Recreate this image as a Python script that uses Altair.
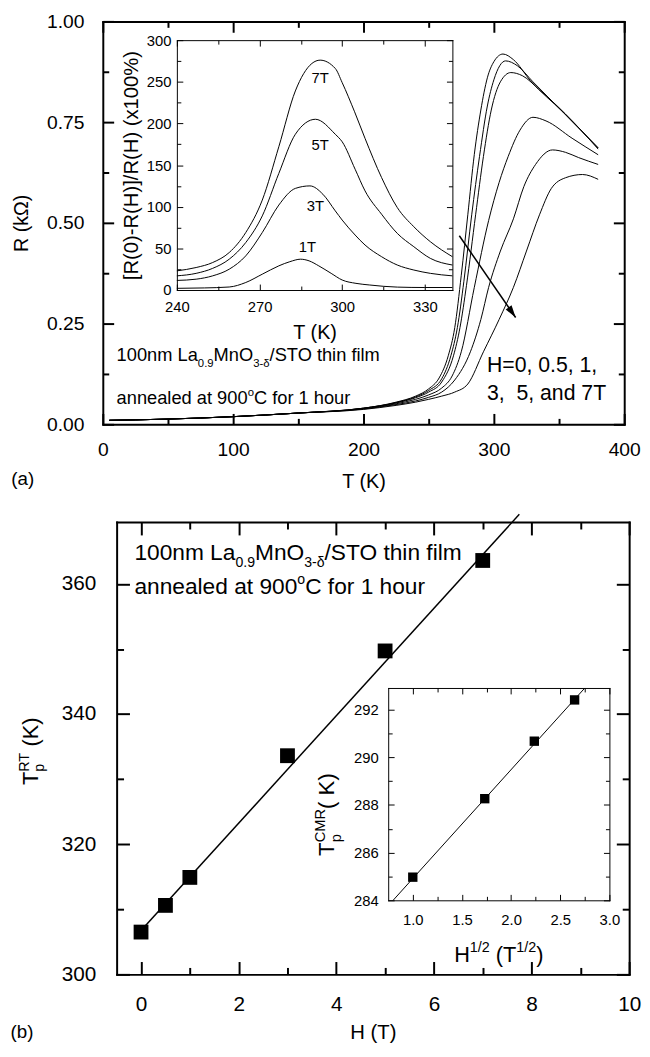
import altair as alt
import pandas as pd

FONT = "Liberation Sans"
W, H = 642, 1041

# ---------------- panel (a): R(T) for several fields ----------------
A_FIELDS = ["0", "0.5", "1", "3", "5", "7"]
A_T = {
    "0":   [5, 25, 50, 100, 150, 200, 225, 240, 250, 258, 265, 270, 275, 280, 285, 290, 295, 300, 307, 315, 328, 353, 380],
    "0.5": [5, 25, 50, 100, 150, 200, 225, 240, 250, 260, 267, 272, 277, 283, 289, 295, 300, 309, 318, 330, 353, 380],
    "1":   [5, 25, 50, 100, 150, 200, 225, 240, 250, 260, 269, 274, 279, 286, 292, 298, 305, 313, 322, 335, 355, 380],
    "3":   [5, 25, 50, 100, 150, 200, 225, 240, 250, 260, 268, 275, 285, 296, 304, 311, 320, 330, 340, 360, 380],
    "5":   [5, 25, 50, 100, 150, 200, 225, 240, 250, 260, 270, 282, 290, 296, 305, 315, 323, 332, 345, 355, 365, 380],
    "7":   [5, 25, 50, 100, 150, 200, 225, 240, 250, 260, 270, 280, 292, 304, 315, 325, 335, 344, 355, 368, 380],
}
A_R = {
    "0":   [0.010, 0.011, 0.013, 0.019, 0.028, 0.040, 0.055, 0.070, 0.088, 0.115, 0.170, 0.240, 0.370, 0.520, 0.670, 0.780, 0.860, 0.900, 0.919, 0.905, 0.853, 0.775, 0.686],
    "0.5": [0.010, 0.011, 0.013, 0.019, 0.028, 0.040, 0.054, 0.068, 0.084, 0.113, 0.170, 0.240, 0.355, 0.520, 0.665, 0.790, 0.855, 0.902, 0.890, 0.850, 0.775, 0.686],
    "1":   [0.010, 0.011, 0.013, 0.019, 0.028, 0.040, 0.053, 0.066, 0.080, 0.105, 0.170, 0.240, 0.345, 0.520, 0.665, 0.780, 0.850, 0.873, 0.865, 0.830, 0.770, 0.683],
    "3":   [0.010, 0.011, 0.013, 0.019, 0.028, 0.039, 0.051, 0.062, 0.073, 0.090, 0.120, 0.180, 0.340, 0.506, 0.600, 0.665, 0.730, 0.762, 0.753, 0.710, 0.669],
    "5":   [0.010, 0.011, 0.013, 0.019, 0.028, 0.038, 0.049, 0.058, 0.067, 0.080, 0.110, 0.180, 0.260, 0.340, 0.430, 0.510, 0.590, 0.645, 0.681, 0.675, 0.662, 0.645],
    "7":   [0.010, 0.011, 0.013, 0.019, 0.028, 0.037, 0.047, 0.055, 0.062, 0.070, 0.080, 0.100, 0.180, 0.260, 0.340, 0.430, 0.520, 0.585, 0.612, 0.620, 0.608],
}
A_XTICKS = [0, 50, 100, 150, 200, 250, 300, 350, 400]
A_YTICKS = [0.0, 0.125, 0.25, 0.375, 0.5, 0.625, 0.75, 0.875, 1.0]
ARROW_T = [273.5, 316.7]
ARROW_R = [0.468, 0.265]

# ---------------- inset of (a): MR ratio ----------------
I_FIELDS = ["7T", "5T", "3T", "1T"]
I_T = {
    "7T": [240, 247, 253, 259, 265, 271, 277, 283, 289, 292, 297.5, 300, 304.5, 308.3, 314.3, 320, 326, 332, 340],
    "5T": [240, 247, 253, 259, 265, 271, 277, 283, 290.3, 297.5, 300, 304.7, 308.3, 314.3, 320, 326, 332, 340],
    "3T": [240, 247, 253, 259, 265, 271, 277, 283, 288.3, 293, 297.5, 300, 304.7, 308.3, 314.3, 320, 326, 332, 340],
    "1T": [240, 250, 259, 265, 271, 277, 281, 284.9, 288, 291.5, 296, 300, 305, 310, 320, 330, 340],
}
I_V = {
    "7T": [23, 27, 33, 45, 69, 108, 172, 239, 272, 276, 266, 249, 214, 182, 135, 99, 76, 58, 40],
    "5T": [17, 20, 26, 37, 57, 89, 140, 187, 205, 187, 178, 145, 119, 91, 68, 52, 38, 30],
    "3T": [11.5, 13, 17, 25, 41, 69, 102, 122, 125, 115, 95, 84, 66, 54, 40, 30, 24, 20, 17],
    "1T": [2, 2.5, 3.6, 9, 19, 29, 34, 37, 35, 29, 20, 12, 8, 6, 3.5, 3, 3],
}
I_LABEL_T = [292, 292, 290.3, 287.4]
I_LABEL_V = [254, 174, 101, 52]
I_XTICKS = [240, 255, 270, 285, 300, 315, 330]
I_YTICKS = [0, 25, 50, 75, 100, 125, 150, 175, 200, 225, 250, 275, 300]

# ---------------- panel (b): Tp(RT) vs H ----------------
B_H = [0, 0.5, 1, 3, 5, 7]
B_TP = [306.5, 310.6, 314.9, 333.6, 349.7, 363.6]
B_FIT_H = [0.07, 7.75]
B_FIT_T = [307.3, 370.7]
B_XTICKS = [0, 1, 2, 3, 4, 5, 6, 7, 8, 9, 10]
B_YTICKS = [300, 310, 320, 330, 340, 350, 360]

# ---------------- inset of (b): Tp(CMR) vs sqrt(H) ----------------
C_X = [1.0, 1.732, 2.236, 2.646]
C_Y = [284.97, 288.26, 290.67, 292.40]
C_FIT_X = [0.80, 2.75]
C_FIT_Y = [284.0, 292.9]
C_XTICKS = [1.0, 1.25, 1.5, 1.75, 2.0, 2.25, 2.5, 2.75, 3.0]
C_YTICKS = [284, 285, 286, 287, 288, 289, 290, 291, 292]

# Arial advance widths (1/1000 em) for laying out sub/superscript text
AW = {' ': 278, '(': 333, ')': 333, ',': 278, '-': 333, '.': 278, '/': 278, '=': 584,
      '%': 889, '[': 278, ']': 278, '\u00b0': 400, '\u03b4': 556, '\u03a9': 768,
      'A': 667, 'B': 667, 'C': 722, 'D': 722, 'E': 667, 'F': 611, 'G': 778, 'H': 722, 'I': 278,
      'J': 500, 'K': 667, 'L': 556, 'M': 833, 'N': 722, 'O': 778, 'P': 667, 'Q': 778, 'R': 722,
      'S': 667, 'T': 611, 'U': 722, 'V': 667, 'W': 944, 'X': 667, 'Y': 667, 'Z': 611,
      'a': 556, 'b': 556, 'c': 500, 'd': 556, 'e': 556, 'f': 278, 'g': 556, 'h': 556, 'i': 222,
      'j': 222, 'k': 500, 'l': 222, 'm': 833, 'n': 556, 'o': 556, 'p': 556, 'q': 556, 'r': 333,
      's': 500, 't': 278, 'u': 556, 'v': 500, 'w': 722, 'x': 500, 'y': 500, 'z': 500}


def tw(s, fs):
    return sum(AW.get(c, 556) for c in s) * fs / 1000.0


def scl(domain, rng):
    return alt.Scale(domain=domain, range=rng, zero=False, nice=False)


def mk_axis(orient, values, test, major, minor, offset, width, labels=False, fmt=None,
            lsize=None, lpad=None, title=None, tsize=None, tpad=None):
    kw = dict(orient=orient, values=values, offset=offset, grid=False, domain=True,
              domainColor="black", domainWidth=width, domainCap="square",
              ticks=True, tickColor="black", tickWidth=width, tickCap="butt",
              tickSize=alt.ExprRef(expr=f"({test}) ? {-major} : {-minor}"),
              labels=labels, title=title)
    if labels:
        kw.update(format=fmt, labelExpr=f"({test}) ? datum.label : ''", labelFont=FONT,
                  labelFontSize=lsize, labelColor="black", labelPadding=lpad,
                  labelOverlap=False, labelFlush=False, labelBound=False)
    if title is not None:
        kw.update(titleFont=FONT, titleFontSize=tsize, titleFontWeight="normal",
                  titleColor="black", titlePadding=tpad)
    return alt.Axis(**kw)


def rich(xv, yv, sx, sy, segments, size, angle=None, center=False, ratio=0.62):
    pos = []
    cursor = 0.0
    stack_w = 0.0
    for text, kind in segments:
        fs = size if kind == "n" else size * ratio
        w = tw(text, fs)
        if kind == "n":
            dy = 0
        elif kind.startswith("sub"):
            dy = size * 0.30
        else:
            dy = -size * 0.42
        lead = len(text) - len(text.lstrip(" "))
        t = text.strip(" ")
        pos.append((t, fs, cursor + tw(" " * lead, fs), dy))
        if kind == "substack":
            stack_w = w
        else:
            cursor += max(w, stack_w)
            stack_w = 0.0
    shift = -cursor / 2 if center else 0.0
    base = alt.Chart(pd.DataFrame({"x": [xv], "y": [yv]}))
    out = []
    for t, fs, dx, dy in pos:
        props = dict(text=t, font=FONT, fontSize=fs, align="left", baseline="alphabetic",
                     dx=dx + shift, dy=dy, color="black")
        if angle is not None:
            props["angle"] = angle
        out.append(base.mark_text(**props).encode(
            x=alt.X("x:Q", scale=sx, axis=None), y=alt.Y("y:Q", scale=sy, axis=None)))
    return out


def simple_text(xs, ys, texts, sx, sy, size, align="left", baseline="alphabetic"):
    df = pd.DataFrame({"x": xs, "y": ys, "t": texts})
    return alt.Chart(df).mark_text(font=FONT, fontSize=size, align=align, baseline=baseline,
                                   color="black").encode(
        x=alt.X("x:Q", scale=sx, axis=None), y=alt.Y("y:Q", scale=sy, axis=None), text="t:N")


def frame(df, xf, yf, sx, sy, ax_x, ax_y):
    return alt.Chart(df).mark_point(opacity=0).encode(
        x=alt.X(f"{xf}:Q", scale=sx, axis=ax_x), y=alt.Y(f"{yf}:Q", scale=sy, axis=ax_y))


def nx(sx):
    return dict(scale=sx, axis=None)


# ================= panel (a) =================
sxA = scl([0, 400], [96, 624])
syA = scl([0, 1], [415, 7])
tA_x = "datum.value % 100 === 0"
tA_y = "abs(datum.value*4 - round(datum.value*4)) < 0.001"
dfA = pd.DataFrame([(f, t, r) for f in A_FIELDS for t, r in zip(A_T[f], A_R[f])], columns=["H", "T", "R"])

a_axes = frame(dfA, "T", "R", sxA, syA,
               mk_axis("bottom", A_XTICKS, tA_x, 11, 6, -(H - 415), 2, True, "d", 19.5, 28, "T (K)", 20, 7),
               mk_axis("left", A_YTICKS, tA_y, 11, 6, -96, 2, True, ".2f", 19.5, 30, "R (k\u03a9)", 20, 15))
a_mirror = frame(dfA, "T", "R", sxA, syA,
                 mk_axis("top", A_XTICKS, tA_x, 11, 6, -7, 2),
                 mk_axis("right", A_YTICKS, tA_y, 11, 6, -(W - 624), 2))

a_lines = alt.Chart(dfA).mark_line(color="black", strokeWidth=1, interpolate="monotone").encode(
    x=alt.X("T:Q", **nx(sxA)), y=alt.Y("R:Q", **nx(syA)), detail="H:N")
df_arrow = pd.DataFrame({"x": ARROW_T, "y": ARROW_R})
a_arrow = alt.Chart(df_arrow).mark_line(color="black", strokeWidth=1.5).encode(
    x=alt.X("x:Q", **nx(sxA)), y=alt.Y("y:Q", **nx(syA)))
a_head = alt.Chart(pd.DataFrame({"x": ARROW_T[-1:], "y": ARROW_R[-1:]})).mark_point(
    shape="M0,0L-0.36,1.25L0.36,1.25Z", size=400, angle=145.5, filled=True, color="black", opacity=1).encode(
    x=alt.X("x:Q", **nx(sxA)), y=alt.Y("y:Q", **nx(syA)))

a_texts = []
a_texts += rich(10.6, 0.157, sxA, syA, [("100nm La", "n"), ("0.9", "sub"), ("MnO", "n"), ("3-\u03b4", "sub"), ("/STO thin film", "n")], 18.5)
a_texts += rich(10.6, 0.0515, sxA, syA, [("annealed at 900", "n"), ("o", "sup"), ("C for 1 hour", "n")], 18.5)
a_texts.append(simple_text([294.7, 294.7], [0.131, 0.060], ["H=0, 0.5, 1,", "3,\u00a0 5, and 7T"], sxA, syA, 21.5))
a_texts.append(simple_text([-61.4], [-0.135], ["(a)"], sxA, syA, 19, align="center", baseline="middle"))
panelA = alt.layer(a_lines, a_arrow, a_head, *a_texts)

# ================= inset (a) =================
sxI = scl([240, 340], [171, 450])
syI = scl([0, 300], [279, 26])
tI_x = "datum.value % 30 === 0"
tI_y = "datum.value % 50 === 0"
dfI = pd.DataFrame([(f, t, v) for f in I_FIELDS for t, v in zip(I_T[f], I_V[f])], columns=["F", "T", "V"])
i_axes = frame(dfI, "T", "V", sxI, syI,
               mk_axis("bottom", I_XTICKS, tI_x, 6, 4, -(H - 279), 1, True, "d", 15, 16, "T (K)", 20, 6),
               mk_axis("left", I_YTICKS, tI_y, 6, 4, -171, 1, True, "d", 15, 12, "[R(0)-R(H)]/R(H) (x100%)", 20.5, 5))
i_mirror = frame(dfI, "T", "V", sxI, syI,
                 mk_axis("top", I_XTICKS, tI_x, 6, 4, -26, 1),
                 mk_axis("right", I_YTICKS, tI_y, 6, 4, -(W - 450), 1))
i_lines = alt.Chart(dfI).mark_line(color="black", strokeWidth=1, interpolate="monotone").encode(
    x=alt.X("T:Q", **nx(sxI)), y=alt.Y("V:Q", **nx(syI)), detail="F:N")
i_labels = simple_text(I_LABEL_T, I_LABEL_V, I_FIELDS, sxI, syI, 15, align="center", baseline="middle")
insetA = alt.layer(i_lines, i_labels)

# ================= panel (b) =================
sxB = scl([-0.5, 10], [110, 629])
syB = scl([300, 369.5], [972, 514])
tB_x = "datum.value % 2 === 0"
tB_y = "datum.value % 20 === 0"
dfB = pd.DataFrame({"H": B_H, "T": B_TP})
b_axes = frame(dfB, "H", "T", sxB, syB,
               mk_axis("bottom", B_XTICKS, tB_x, 13, 7, -(H - 972), 2, True, "d", 21, 33, "H (T)", 20.5, 2),
               mk_axis("left", B_YTICKS, tB_y, 13, 7, -110, 2, True, "d", 21, 34))
b_mirror = frame(dfB, "H", "T", sxB, syB,
                 mk_axis("top", B_XTICKS, tB_x, 13, 7, -514, 2),
                 mk_axis("right", B_YTICKS, tB_y, 13, 7, -(W - 629), 2))
b_pts = alt.Chart(dfB).mark_square(size=225, color="black", opacity=1).encode(
    x=alt.X("H:Q", **nx(sxB)), y=alt.Y("T:Q", **nx(syB)))
b_fit = alt.Chart(pd.DataFrame({"x": B_FIT_H, "y": B_FIT_T})).mark_line(color="black", strokeWidth=1.5).encode(
    x=alt.X("x:Q", **nx(sxB)), y=alt.Y("y:Q", **nx(syB)))
b_texts = []
b_texts += rich(-0.136, 363.6, sxB, syB, [("100nm La", "n"), ("0.9", "sub"), ("MnO", "n"), ("3-\u03b4", "sub"), ("/STO thin film", "n")], 23)
b_texts += rich(-0.136, 358.5, sxB, syB, [("annealed at 900", "n"), ("o", "sup"), ("C for 1 hour", "n")], 23)
b_texts += rich(-2.118, 329.1, sxB, syB, [("T", "n"), ("p", "substack"), ("RT", "sup"), (" (K)", "n")], 22, angle=270, ratio=0.66)
b_texts.append(simple_text([-2.44], [291.2], ["(b)"], sxB, syB, 19, align="center", baseline="middle"))
panelB = alt.layer(b_fit, b_pts, *b_texts)

# ================= inset (b) =================
sxC = scl([0.75, 3.0], [385, 609])
syC = scl([284, 292.9], [897, 682])
tC_x = "abs(datum.value*2 - round(datum.value*2)) < 0.001"
tC_y = "datum.value % 2 === 0"
dfC = pd.DataFrame({"x": C_X, "y": C_Y})
c_axes = frame(dfC, "x", "y", sxC, syC,
               mk_axis("bottom", C_XTICKS, tC_x, 6, 4, -(H - 897), 1, True, ".1f", 15, 19),
               mk_axis("left", C_YTICKS, tC_y, 6, 4, -385, 1, True, "d", 15, 16))
c_mirror = frame(dfC, "x", "y", sxC, syC,
                 mk_axis("top", C_XTICKS, tC_x, 6, 4, -682, 1),
                 mk_axis("right", C_YTICKS, tC_y, 6, 4, -(W - 609), 1))
c_pts = alt.Chart(dfC).mark_square(size=90, color="black", opacity=1).encode(
    x=alt.X("x:Q", **nx(sxC)), y=alt.Y("y:Q", **nx(syC)))
c_fit = alt.Chart(pd.DataFrame({"x": C_FIT_X, "y": C_FIT_Y})).mark_line(color="black", strokeWidth=1).encode(
    x=alt.X("x:Q", **nx(sxC)), y=alt.Y("y:Q", **nx(syC)))
c_texts = []
c_texts += rich(0.198, 285.86, sxC, syC, [("T", "n"), ("p", "substack"), ("CMR", "sup"), ("(  K)", "n")], 22.5, angle=270, ratio=0.66)
c_texts += rich(1.875, 281.43, sxC, syC, [("H", "n"), ("1/2", "sup"), (" (T", "n"), ("1/2", "sup"), (")", "n")], 22, center=True, ratio=0.66)
insetB = alt.layer(c_fit, c_pts, *c_texts)

chart = alt.layer(
    a_axes, a_mirror, panelA, i_axes, i_mirror, insetA,
    b_axes, b_mirror, panelB, c_axes, c_mirror, insetB
).resolve_scale(x="independent", y="independent").properties(
    width=W, height=H, autosize=alt.AutoSizeParams(type="none"), padding=0, background="white"
).configure_view(stroke=None)

chart.save("out.html", embed_options={"renderer": "svg", "actions": False})
